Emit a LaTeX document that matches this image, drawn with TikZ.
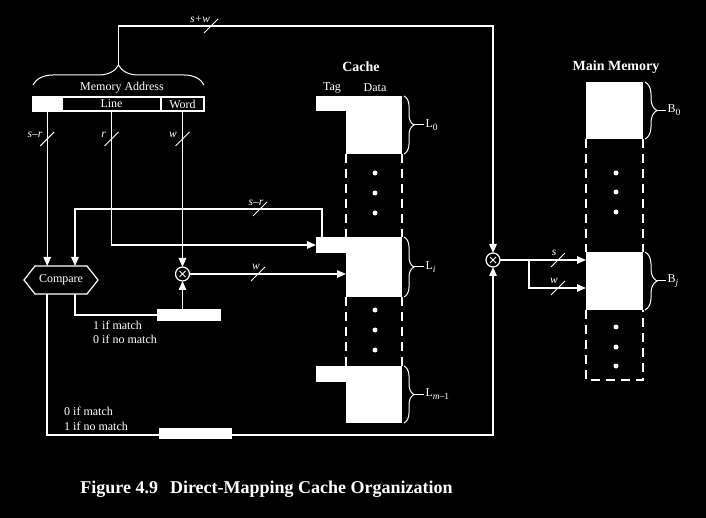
\documentclass[tikz,border=0pt]{standalone}
\usepackage{fontspec}
\setmainfont{Liberation Serif}
\usetikzlibrary{arrows.meta,calc,decorations.pathreplacing}
\newcommand\subx[1]{\raisebox{-3pt}{\fontsize{9.5}{10}\selectfont #1}}
\begin{document}
\begin{tikzpicture}[x=1pt,y=-1pt,white,
  ln/.style={draw=white, line width=1.2pt},
  arr/.style={ln, -{Triangle[length=9pt,width=7.5pt]}},
  lbl/.style={text=white, font=\fontsize{12}{13}\selectfont, inner sep=1pt},
  hdr/.style={text=white, font=\bfseries\fontsize{14}{16}\selectfont, inner sep=1pt},
  sl/.style={text=white, font=\itshape\fontsize{11.5}{12}\selectfont, inner sep=0.5pt},
  blk/.style={fill=white, draw=none, inner sep=0pt, outer sep=0pt},
  cell/.style={draw=white, line width=1.2pt, inner sep=0pt, outer sep=0pt, text=white, font=\fontsize{12}{13}\selectfont},
  dsh/.style={draw=white, line width=2pt, dash pattern=on 9pt off 6pt},
  brc/.style={draw=white, line width=1pt, decorate, decoration={brace, amplitude=10pt}},
  mul/.style={circle, draw=white, line width=1.2pt, minimum size=14pt, inner sep=0pt, outer sep=0pt,
    path picture={\draw[white,line width=1pt] (path picture bounding box.center) +(-3,-3) -- +(3,3) +(-3,3) -- +(3,-3);}},
  dot/.style={circle, fill=white, draw=none, inner sep=0pt, minimum size=5pt},
  bus/.pic={\draw[white,line width=1pt] (-7,7) -- (7,-7);}
]
\fill[black] (0,0) rectangle (706,518);
\useasboundingbox (0,0) rectangle (706,518);

% ---------- memory address ----------
\node[cell, minimum width=99, minimum height=14] (aLine) at (111.5,104) {Line};
\node[cell, minimum width=43, minimum height=14] (aWord) at (182.5,104) {Word};
\node[blk, minimum width=29.6, minimum height=15.2] (aTag) at (47.2,104) {};
\node[lbl] (maddr) at (122,88) {Memory Address};
\draw[brc, decoration={brace, amplitude=20pt}] (33,85) -- (204,85);
\coordinate (btip) at (118.5,65);

% ---------- compare ----------
\node[lbl, minimum width=52, minimum height=28, inner sep=0pt, outer sep=0pt] (cmp) at (61,280) {Compare};
\draw[ln] (cmp.north west) -- (cmp.north east) -- ($(cmp.east)+(11,0)$) -- (cmp.south east)
  -- (cmp.south west) -- ($(cmp.west)+(-11,0)$) -- cycle;

% ---------- multipliers ----------
\node[mul] (mul1) at (182.5,274) {};
\node[mul] (mul2) at (493,260) {};

% ---------- cache ----------
\node[hdr] (chead) at (361,67) {Cache};
\node[lbl] (ctag) at (332,88) {Tag};
\node[lbl] (cdata) at (375,88) {Data};
\node[blk, minimum width=30, minimum height=15] (tag0) at (331,103.5) {};
\node[blk, minimum width=56, minimum height=58] (data0) at (374,125) {};
\node[blk, minimum width=30, minimum height=16] (tagI) at (331,245) {};
\node[blk, minimum width=56, minimum height=60] (dataI) at (374,267) {};
\node[blk, minimum width=30, minimum height=16] (tagM) at (331,374) {};
\node[blk, minimum width=56, minimum height=57] (dataM) at (374,394.5) {};
\draw[dsh] (data0.south west) -- (dataI.north west);
\draw[dsh] (data0.south east) -- (dataI.north east);
\draw[dsh] (dataI.south west) -- (dataM.north west);
\draw[dsh] (dataI.south east) -- (dataM.north east);
\foreach \y [count=\i] in {173,193,213,310,330,350} \node[dot] (cd\i) at (375,\y) {};

\draw[brc] ([xshift=2pt]data0.north east) -- ([xshift=2pt]data0.south east);
\draw[ln, line width=1pt] ([xshift=12pt]data0.east) -- ++(10,0) node[lbl, anchor=west] (l0) {L\subx{0}};
\draw[brc] ([xshift=2pt]dataI.north east) -- ([xshift=2pt]dataI.south east);
\draw[ln, line width=1pt] ([xshift=12pt]dataI.east) -- ++(10,0) node[lbl, anchor=west] (li) {L\subx{\textit{i}}};
\draw[brc] ([xshift=2pt]dataM.north east) -- ([xshift=2pt]dataM.south east);
\draw[ln, line width=1pt] ([xshift=12pt]dataM.east) -- ++(10,0) node[lbl, anchor=west] (lm) {L\subx{\textit{m}–1}};

% ---------- main memory ----------
\node[hdr] (mhead) at (616,67) {Main Memory};
\node[blk, minimum width=57, minimum height=57] (B0) at (614.5,110.5) {};
\node[blk, minimum width=57, minimum height=58] (Bj) at (614.5,281) {};
\draw[dsh] (B0.south west) -- (Bj.north west);
\draw[dsh] (B0.south east) -- (Bj.north east);
\draw[dsh] (Bj.south west) -- ($(Bj.south west)+(0,70)$) -- ($(Bj.south east)+(0,70)$) -- (Bj.south east);
\foreach \y [count=\i] in {173,192,212,327,347,366} \node[dot] (md\i) at (616,\y) {};
\draw[brc, decoration={brace, amplitude=12pt}] ([xshift=2pt]B0.north east) -- ([xshift=2pt]B0.south east);
\draw[ln, line width=1pt] ([xshift=14pt]B0.east) -- ++(9,0) node[lbl, anchor=west] (b0) {B\subx{0}};
\draw[brc, decoration={brace, amplitude=12pt}] ([xshift=2pt]Bj.north east) -- ([xshift=2pt]Bj.south east);
\draw[ln, line width=1pt] ([xshift=14pt]Bj.east) -- ++(9,0) node[lbl, anchor=west] (bj) {B\subx{\textit{j}}};

% ---------- connectors ----------
\draw[arr] (btip) -- (118.5,26) -- (493,26) -- (mul2.north);
\pic at (211,26) {bus};
\node[sl] (lsw) at (200,19.5) {s+w};

\draw[arr] (aTag.south) -- (aTag.south |- cmp.north);
\pic at (47.2,139) {bus};
\node[sl, anchor=east] (lsr1) at (43,135) {s–r};
\draw[arr] (aLine.south) -- (aLine.south |- tagI.west) -- (tagI.west);
\pic at (111.5,139) {bus};
\node[sl, anchor=east] (lr) at (106.5,135) {r};
\draw[arr] (aWord.south) -- (mul1.north);
\pic at (182.5,139) {bus};
\node[sl, anchor=east] (lw1) at (177.5,135) {w};

\draw[arr] ([xshift=6pt]tagI.north west) -- ++(0,-28) -| ([xshift=-12pt]cmp.north east);
\pic at (260,209) {bus};
\node[sl] (lsr2) at (256,203) {s–r};

\draw[arr] (mul1.east) -- (mul1.east -| dataI.west);
\pic at (258,274) {bus};
\node[sl] (lw2) at (256,267) {w};

\node[blk, minimum width=64, minimum height=12] (box1) at (188.5,315) {};
\draw[arr] (box1.north -| mul1) -- (mul1.south);
\draw[ln] ([xshift=-12pt]cmp.south east) |- (box1.west);
\node[lbl, anchor=west] (m1a) at (92,325) {1 if match};
\node[lbl, anchor=west] (m1b) at (92,339) {0 if no match};

\draw[arr] ([xshift=12pt]cmp.south west) -- (47,435) -| (mul2.south);
\node[blk, minimum width=73, minimum height=11] (box2) at (195.5,433.5) {};
\node[lbl, anchor=west] (m2a) at (63,411) {0 if match};
\node[lbl, anchor=west] (m2b) at (63,426) {1 if no match};

\draw[arr] (mul2.east) -- (mul2.east -| Bj.west);
\coordinate (br1) at (529,260);
\draw[arr] (br1) |- ($(Bj.west)+(0,7)$);
\pic at (558,260) {bus};
\node[sl] (ls) at (554,253) {s};
\pic at (558,288) {bus};
\node[sl] (lw3) at (554,281) {w};

% ---------- caption ----------
\node[text=white, font=\bfseries\fontsize{18}{20}\selectfont, inner sep=0pt] (cap) at (266.5,489)
  {Figure 4.9\hspace{12pt}Direct-Mapping Cache Organization};
\end{tikzpicture}
\end{document}
